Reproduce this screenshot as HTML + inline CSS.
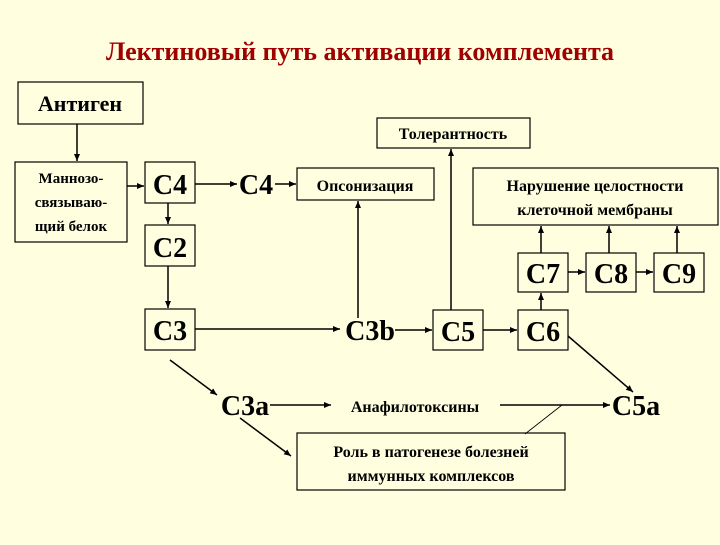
<!DOCTYPE html>
<html><head><meta charset="utf-8"><style>
body{margin:0;width:720px;height:540px;background:#ffffe0;overflow:hidden;font-family:"Liberation Serif",serif;}
</style></head><body>
<svg width="720" height="540" viewBox="0 0 720 540" xmlns="http://www.w3.org/2000/svg" font-family="Liberation Serif, serif">
<defs><marker id="a" markerWidth="8" markerHeight="8" refX="7" refY="3" orient="auto" markerUnits="userSpaceOnUse"><path d="M0,0 L7,3 L0,6 z" fill="#000"/></marker></defs>
<rect width="720" height="540" fill="#ffffe0"/>
<text x="360" y="60" font-size="26" font-weight="bold" fill="#a00000" text-anchor="middle">Лектиновый путь активации комплемента</text>
<g fill="none" stroke="#000" stroke-width="1.2">
<rect x="18" y="82" width="125" height="42"/>
<rect x="15" y="162" width="112" height="80"/>
<rect x="145" y="162" width="50" height="41"/>
<rect x="145" y="225" width="50" height="41"/>
<rect x="145" y="309" width="50" height="41"/>
<rect x="297" y="168" width="137" height="32"/>
<rect x="377" y="118" width="153" height="30"/>
<rect x="473" y="168" width="245" height="57"/>
<rect x="518" y="253" width="50" height="39"/>
<rect x="586" y="253" width="50" height="39"/>
<rect x="654" y="253" width="50" height="39"/>
<rect x="433" y="310" width="50" height="40"/>
<rect x="518" y="310" width="50" height="40"/>
<rect x="297" y="433" width="268" height="57"/>
</g>
<g stroke="#000" stroke-width="1.5" marker-end="url(#a)">
<line x1="77" y1="124" x2="77" y2="161"/>
<line x1="127" y1="186" x2="144" y2="186"/>
<line x1="195" y1="184" x2="237" y2="184"/>
<line x1="275" y1="184" x2="296" y2="184"/>
<line x1="168" y1="203" x2="168" y2="224"/>
<line x1="168" y1="266" x2="168" y2="308"/>
<line x1="195" y1="329" x2="340" y2="329"/>
<line x1="358" y1="318" x2="358" y2="201"/>
<line x1="451" y1="310" x2="451" y2="149"/>
<line x1="395" y1="330" x2="432" y2="330"/>
<line x1="483" y1="330" x2="517" y2="330"/>
<line x1="541" y1="310" x2="541" y2="293"/>
<line x1="568" y1="272" x2="585" y2="272"/>
<line x1="636" y1="272" x2="653" y2="272"/>
<line x1="541" y1="253" x2="541" y2="226"/>
<line x1="609" y1="253" x2="609" y2="226"/>
<line x1="677" y1="253" x2="677" y2="226"/>
<line x1="170" y1="360" x2="217" y2="395"/>
<line x1="240" y1="418" x2="291" y2="456"/>
<line x1="270" y1="405" x2="331" y2="405"/>
<line x1="500" y1="405" x2="610" y2="405"/>
<line x1="568" y1="336" x2="633" y2="392"/>
</g>
<line x1="525" y1="434" x2="562" y2="405" stroke="#000" stroke-width="0.8"/>
<g font-weight="bold" fill="#000" text-anchor="middle">
<text x="80" y="111" font-size="22">Антиген</text>
<text x="71" y="183" font-size="15">Маннозо-</text>
<text x="71" y="207" font-size="15">связываю-</text>
<text x="71" y="231" font-size="15">щий белок</text>
</g>
<g fill="#000" text-anchor="middle" font-size="28" font-weight="bold">
<text x="170" y="194">C4</text>
<text x="256" y="194">C4</text>
<text x="170" y="257">C2</text>
<text x="170" y="340">C3</text>
<text x="370" y="340">C3b</text>
<text x="458" y="341">C5</text>
<text x="543" y="341">C6</text>
<text x="543" y="283">C7</text>
<text x="611" y="283">C8</text>
<text x="679" y="283">C9</text>
<text x="245" y="415">C3a</text>
<text x="636" y="415">C5a</text>
</g>
<g font-weight="bold" fill="#000" text-anchor="middle" font-size="16">
<text x="365" y="191">Опсонизация</text>
<text x="453" y="139">Толерантность</text>
<text x="595" y="191">Нарушение целостности</text>
<text x="595" y="215">клеточной мембраны</text>
<text x="415" y="412">Анафилотоксины</text>
<text x="431" y="457">Роль в патогенезе болезней</text>
<text x="431" y="481">иммунных комплексов</text>
</g>
</svg>
</body></html>
